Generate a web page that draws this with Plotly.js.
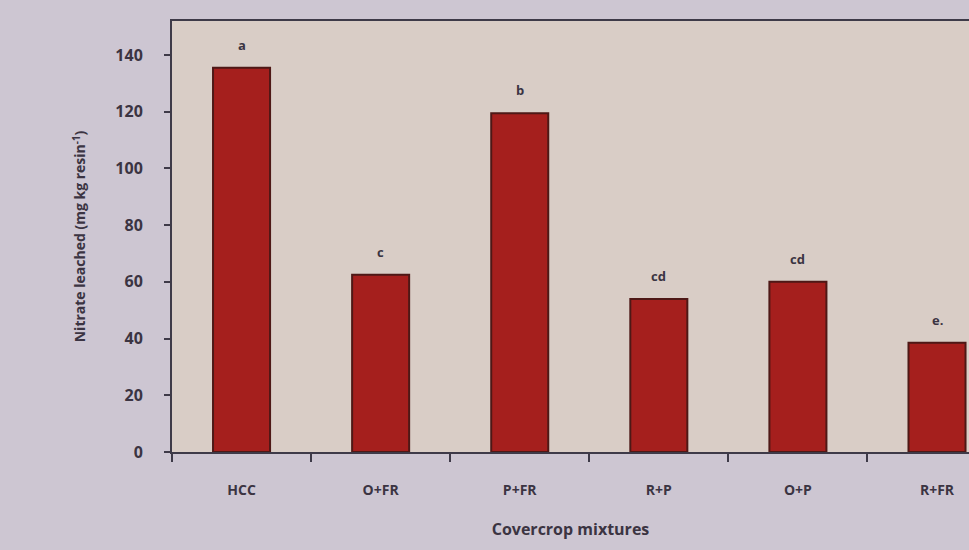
<!DOCTYPE html>
<html>
<head>
<meta charset="utf-8">
<script src="https://cdn.plot.ly/plotly-3.0.1.min.js"></script>
<style>
html,body{margin:0;padding:0;background:#cdc6d2;overflow:hidden;}
#chart{width:969px;height:550px;}
</style>
</head>
<body>
<div id="chart"></div>
<script>
const categories = ["HCC", "O+FR", "P+FR", "R+P", "O+P", "R+FR"];
const nitrate = [135.5, 62.5, 119.5, 54, 60, 38.5];
const letters = ["a", "c", "b", "cd", "cd", "e."];
const yTicks = [0, 20, 40, 60, 80, 100, 120, 140];

const fontFam = "Open Sans, Liberation Sans, sans-serif";
const txtCol = "#3b3442";

const trace = {
  type: "bar",
  x: categories,
  y: nitrate,
  marker: {color: "#a51f1d", line: {color: "#4e1816", width: 2}},
  hoverinfo: "x+y"
};

const annotations = categories.map((c, i) => ({
  x: c,
  y: nitrate[i],
  xref: "x",
  yref: "y",
  text: letters[i],
  showarrow: false,
  yanchor: "bottom",
  yshift: 12,
  font: {family: fontFam, size: 13, color: txtCol, weight: "bold"}
}));

const layout = {
  width: 969,
  height: 550,
  margin: {l: 172, r: 0, t: 21, b: 98},
  paper_bgcolor: "#cdc6d2",
  plot_bgcolor: "#d9cdc6",
  bargap: 0.59,
  showlegend: false,
  font: {family: fontFam, color: txtCol},
  annotations: annotations,
  xaxis: {
    type: "category",
    range: [-0.5, 5.23],
    showline: true,
    linecolor: "#3e3a48",
    linewidth: 2,
    mirror: true,
    ticks: "outside",
    tickson: "boundaries",
    ticklen: 8,
    tickwidth: 2,
    tickcolor: "#3e3a48",
    ticklabelstandoff: 24,
    tickfont: {family: fontFam, size: 14, color: txtCol, weight: "bold"},
    showgrid: false,
    title: {text: "Covercrop mixtures", font: {family: fontFam, size: 16, color: txtCol, weight: "bold"}, standoff: 26}
  },
  yaxis: {
    range: [0, 152],
    tickvals: yTicks,
    ticktext: yTicks.map(String),
    showline: true,
    linecolor: "#3e3a48",
    linewidth: 2,
    ticks: "outside",
    ticklen: 6,
    tickwidth: 2,
    tickcolor: "#3e3a48",
    ticklabelstandoff: 18,
    tickfont: {family: fontFam, size: 16, color: txtCol, weight: "bold"},
    showgrid: false,
    zeroline: false,
    title: {text: "Nitrate leached (mg kg resin<sup>-1</sup>)", font: {family: fontFam, size: 14, color: txtCol, weight: "bold"}, standoff: 26}
  }
};

Plotly.newPlot("chart", [trace], layout, {displayModeBar: false, staticPlot: true});
</script>
</body>
</html>
